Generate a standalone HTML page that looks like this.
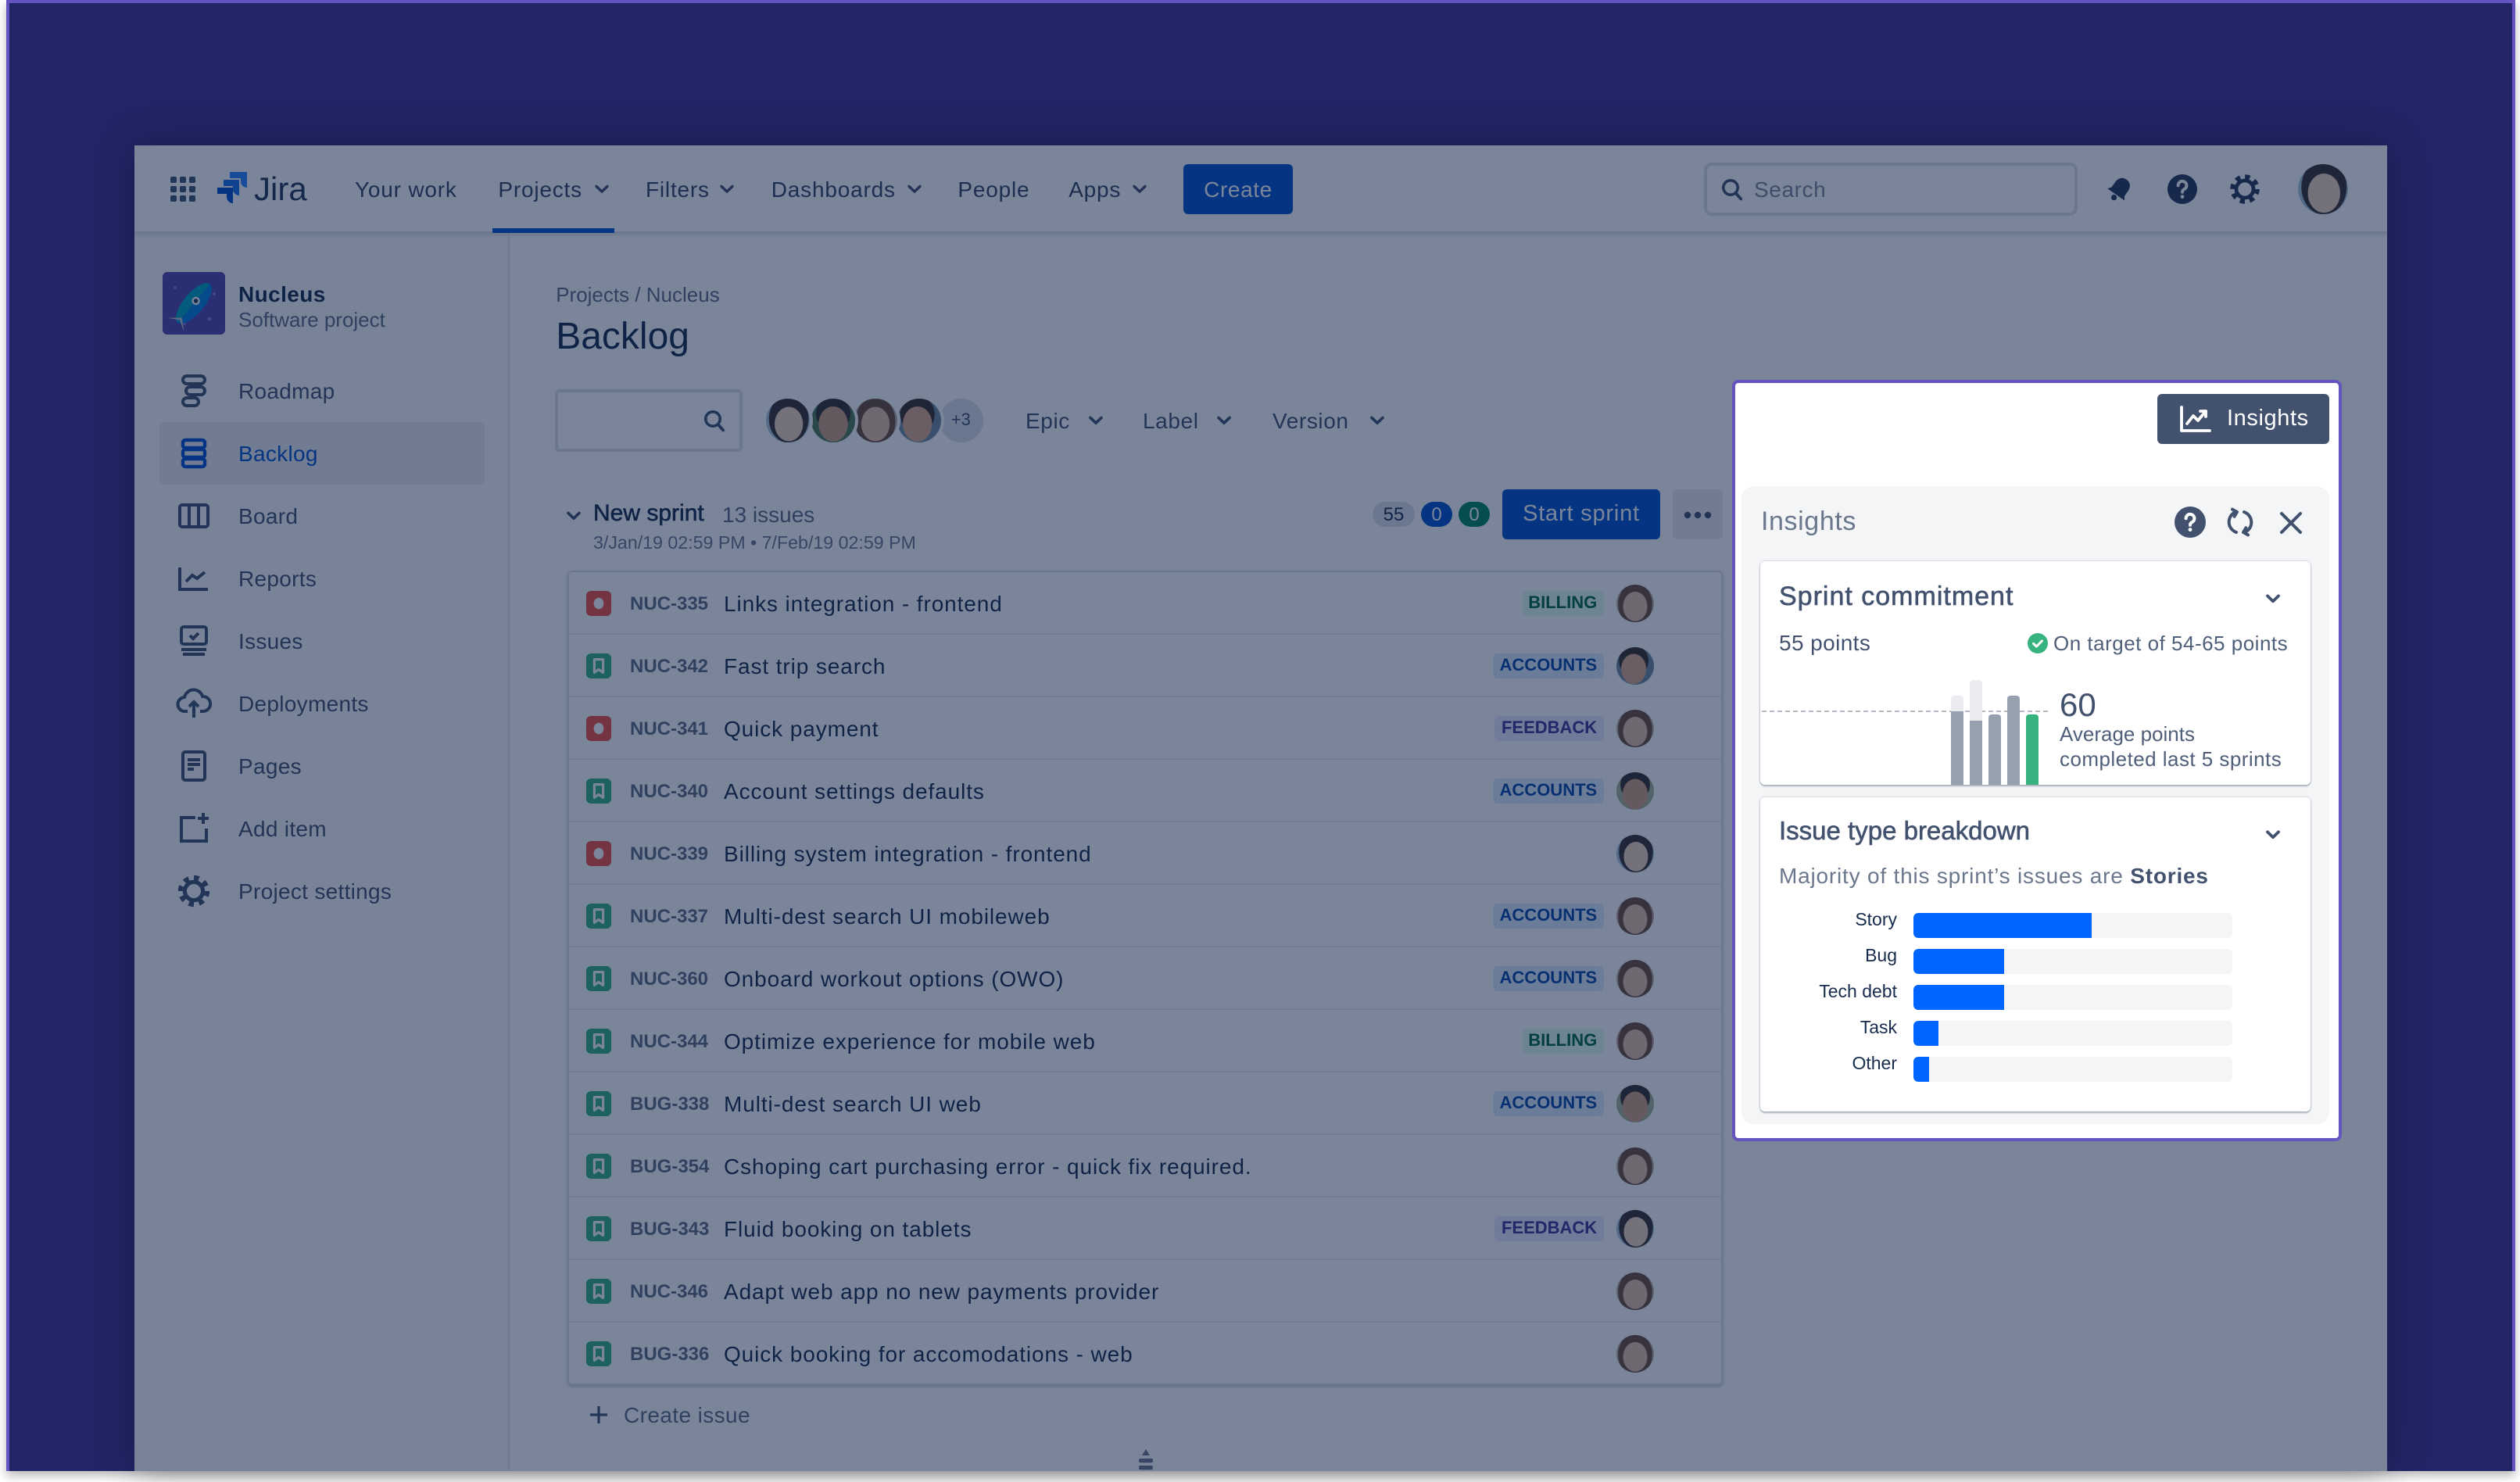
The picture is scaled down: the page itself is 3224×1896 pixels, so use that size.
<!DOCTYPE html>
<html><head><meta charset="utf-8">
<style>
*{box-sizing:border-box;margin:0;padding:0}
html,body{width:3224px;height:1896px;overflow:hidden;background:#fff}
body{font-family:"Liberation Sans",Arial,sans-serif;color:#172b4d}
#root{position:absolute;left:0;top:0;width:1612px;height:948px;transform:scale(2);transform-origin:0 0}
.a{position:absolute}
.t{position:absolute;line-height:1;white-space:nowrap}
.nav{font-size:14px;letter-spacing:.4px;color:#344563;top:21.4px}
.sb{position:absolute;left:66.5px;font-size:14px;letter-spacing:.15px;color:#42526e;line-height:1;white-space:nowrap}
.si{position:absolute;left:26px;width:24px;height:24px}
.av{position:absolute;border-radius:50%;border:2px solid #fff}
.fA{background:radial-gradient(ellipse 33% 40% at 50% 58%,#e8c0a6 0 96%,transparent 100%),radial-gradient(ellipse 46% 58% at 50% 52%,#6b4a3a 0 97%,transparent 100%),#b9ada2}
.fB{background:radial-gradient(ellipse 34% 41% at 46% 58%,#dcaa8c 0 96%,transparent 100%),radial-gradient(ellipse 40% 42% at 46% 36%,#3c2e26 0 97%,transparent 100%),#6d89a0}
.fC{background:radial-gradient(ellipse 33% 40% at 52% 58%,#f3d3bd 0 96%,transparent 100%),radial-gradient(ellipse 46% 56% at 52% 46%,#3a3030 0 97%,transparent 100%),#a9c6da}
.fD{background:radial-gradient(ellipse 34% 41% at 50% 58%,#cf9f80 0 96%,transparent 100%),radial-gradient(ellipse 40% 40% at 50% 34%,#35302c 0 97%,transparent 100%),#a7b496}
.list{position:absolute;left:277px;top:271.5px;width:739px;height:521px;border:1px solid #dfe1e6;border-radius:3px;background:#fff;box-shadow:0 1px 2px rgba(9,30,66,.25)}
.row{position:absolute;left:0;width:737px;height:40px;border-bottom:1px solid #ebecf0}
.row:last-child{border-bottom:none}
.row svg.ic{position:absolute;left:11px;top:12px}
.key{position:absolute;left:39px;top:0;line-height:40px;font-size:12px;font-weight:bold;color:#5e6c84;white-space:nowrap}
.sum{position:absolute;left:99px;top:0;line-height:40px;font-size:14px;letter-spacing:.45px;color:#172b4d;white-space:nowrap}
.lab{position:absolute;right:75.4px;top:12px;height:16px;line-height:16px;padding:0 4px;border-radius:3px;font-size:11px;font-weight:bold;white-space:nowrap}
.lB{background:#e3fcef;color:#006644}
.lA{background:#deebff;color:#0747a6}
.lF{background:#eae6ff;color:#403294}
.ra{position:absolute;left:670px;top:8px;width:24px;height:24px;border-radius:50%}
.bl{position:absolute;width:8px;border-radius:2px 2px 0 0}
.bt{position:absolute;left:1224px;width:203.5px;height:16px;background:#f4f5f7;border-radius:3px;overflow:hidden}
.bt i{position:absolute;left:0;top:0;height:16px;background:#0065ff;border-radius:3px 0 0 3px}
.bll{position:absolute;right:398.5px;font-size:11.5px;line-height:1;color:#172b4d;white-space:nowrap}
</style></head><body><div id="root">

<!-- outer frame -->
<div class="a" style="left:4px;top:0;width:1604.5px;height:940.5px;background:#222666;border:2px solid #6554c0;border-bottom:none;box-shadow:0 3px 6px rgba(0,0,0,.28)"></div>

<!-- app window -->
<div id="app" class="a" style="left:86px;top:93px;width:1440.5px;height:847.5px;background:#fff;overflow:hidden;z-index:0;box-shadow:0 0 24px rgba(0,0,20,.35)">

 <!-- sidebar -->
 <div class="a" style="left:0;top:56px;width:240px;height:791.5px;background:#fafbfc;border-right:1px solid #e4e6ea"></div>

 <!-- header -->
 <div class="a" style="left:0;top:0;width:1440.5px;height:56px;background:#fff;border-bottom:1px solid #dfe1e6;box-shadow:0 1px 3px rgba(9,30,66,.15)"></div>
 <svg class="a" style="left:22.5px;top:20px" width="16" height="16" viewBox="0 0 16 16" fill="#42526e">
  <rect x="0" y="0" width="4" height="4" rx="1"/><rect x="6" y="0" width="4" height="4" rx="1"/><rect x="12" y="0" width="4" height="4" rx="1"/>
  <rect x="0" y="6" width="4" height="4" rx="1"/><rect x="6" y="6" width="4" height="4" rx="1"/><rect x="12" y="6" width="4" height="4" rx="1"/>
  <rect x="0" y="12" width="4" height="4" rx="1"/><rect x="6" y="12" width="4" height="4" rx="1"/><rect x="12" y="12" width="4" height="4" rx="1"/>
 </svg>
 <svg class="a" style="left:51.5px;top:17px" width="21" height="21" viewBox="0 0 21 21">
  <path d="M9 0h11v10a4 4 0 0 1-4-4V4H9z" fill="#2684ff"/>
  <path d="M5 5h10v10a4 4 0 0 1-4-4V9H5z" fill="#1a6fe8"/>
  <path d="M1 10h10v10a4 4 0 0 1-4-4v-2H1z" fill="#0052cc"/>
 </svg>
 <div class="t" style="left:76.5px;top:17.7px;font-size:21px;color:#253858">Jira</div>
 <div class="t nav" style="left:141px">Your work</div>
 <div class="t nav" style="left:232.7px">Projects</div>
 <div class="t nav" style="left:327px">Filters</div>
 <div class="t nav" style="left:407.4px">Dashboards</div>
 <div class="t nav" style="left:526.7px">People</div>
 <div class="t nav" style="left:597.6px">Apps</div>
 <svg class="a" style="left:293.5px;top:25px" width="10" height="6" viewBox="0 0 10 6"><path d="M1.5 1.2L5 4.6 8.5 1.2" fill="none" stroke="#42526e" stroke-width="1.7" stroke-linecap="round" stroke-linejoin="round"/></svg>
 <svg class="a" style="left:373.7px;top:25px" width="10" height="6" viewBox="0 0 10 6"><path d="M1.5 1.2L5 4.6 8.5 1.2" fill="none" stroke="#42526e" stroke-width="1.7" stroke-linecap="round" stroke-linejoin="round"/></svg>
 <svg class="a" style="left:494px;top:25px" width="10" height="6" viewBox="0 0 10 6"><path d="M1.5 1.2L5 4.6 8.5 1.2" fill="none" stroke="#42526e" stroke-width="1.7" stroke-linecap="round" stroke-linejoin="round"/></svg>
 <svg class="a" style="left:638px;top:25px" width="10" height="6" viewBox="0 0 10 6"><path d="M1.5 1.2L5 4.6 8.5 1.2" fill="none" stroke="#42526e" stroke-width="1.7" stroke-linecap="round" stroke-linejoin="round"/></svg>
 <div class="a" style="left:229px;top:53px;width:78px;height:3px;background:#0052cc"></div>
 <div class="a" style="left:671px;top:12px;width:70px;height:32px;background:#0052cc;border-radius:3px;color:#fff;font-size:14px;letter-spacing:.3px;display:flex;align-items:center;justify-content:center">Create</div>

 <div class="a" style="left:1004px;top:11px;width:239px;height:34px;border:2px solid #dfe1e6;border-radius:5px;background:#fff"></div>
 <svg class="a" style="left:1014.5px;top:21px" width="14" height="15" viewBox="0 0 14 15"><circle cx="6" cy="6" r="4.6" fill="none" stroke="#42526e" stroke-width="1.8"/><path d="M9.4 9.6L12.6 13.2" stroke="#42526e" stroke-width="1.9" stroke-linecap="round"/></svg>
 <div class="t" style="left:1036px;top:21.4px;font-size:14px;letter-spacing:.3px;color:#7a869a">Search</div>

 <svg class="a" style="left:1260px;top:18px" width="20" height="20" viewBox="0 0 20 20"><g transform="rotate(35 10 10)" fill="#253858"><path d="M10 2.5c-3.2 0-5 2.4-5 5.5v4L3.3 14.2h13.4L15 12V8c0-3.1-1.8-5.5-5-5.5z"/><circle cx="10" cy="16.5" r="1.8"/></g></svg>
 <svg class="a" style="left:1299.6px;top:18px" width="20" height="20" viewBox="0 0 20 20"><circle cx="10" cy="10" r="9.5" fill="#253858"/><path d="M7.3 7.6a2.7 2.7 0 1 1 3.8 2.5c-.8.4-1.1.9-1.1 1.8" fill="none" stroke="#fff" stroke-width="2" stroke-linecap="round"/><circle cx="10" cy="14.8" r="1.2" fill="#fff"/></svg>
 <svg class="a" style="left:1339.7px;top:18px" width="20" height="20" viewBox="0 0 20 20"><circle cx="10" cy="10" r="7.8" fill="none" stroke="#253858" stroke-width="3.2" stroke-dasharray="3.1 3.03"/><circle cx="10" cy="10" r="5.5" fill="none" stroke="#253858" stroke-width="2.4"/></svg>
 <div class="a fC" style="left:1384px;top:12px;width:32px;height:32px;border-radius:50%"></div>

 <!-- sidebar content -->
 <div class="a" style="left:18px;top:81px;width:40px;height:40px;background:#5243aa;border-radius:3px;overflow:hidden">
  <svg width="40" height="40" viewBox="0 0 40 40"><circle cx="8" cy="10" r="1" fill="#8777d9"/><circle cx="30" cy="30" r="1.2" fill="#8777d9"/><circle cx="33" cy="14" r="1" fill="#8777d9"/><circle cx="14" cy="33" r="1" fill="#8777d9"/>
  <g transform="rotate(-50 20 20)"><ellipse cx="20" cy="20" rx="16" ry="6.5" fill="#00a3bf"/><path d="M4 20 a16 6.5 0 0 0 32 0z" fill="#0065ff" opacity=".55"/><circle cx="22" cy="20" r="2.6" fill="#fff"/><circle cx="22" cy="20" r="1.4" fill="#253858"/><path d="M8 20 L2 13 L6 20 L2 27z" fill="#c1c7d0"/></g></svg>
 </div>
 <div class="t" style="left:66.5px;top:87.6px;font-size:14px;font-weight:bold;letter-spacing:.2px;color:#172b4d">Nucleus</div>
 <div class="t" style="left:66.5px;top:105px;font-size:13px;color:#5e6c84">Software project</div>
 <div class="a" style="left:16px;top:177px;width:208px;height:40px;background:#ebecf0;border-radius:3px"></div>

 <svg class="si" style="top:145px" viewBox="0 0 24 24" fill="none" stroke="#42526e" stroke-width="2"><rect x="5" y="2.5" width="14" height="5" rx="2.5"/><rect x="7" y="9.5" width="12" height="5" rx="2.5"/><rect x="5" y="16.5" width="10" height="5" rx="2.5"/></svg>
 <div class="sb" style="top:150.1px">Roadmap</div>
 <svg class="si" style="top:185px" viewBox="0 0 24 24" fill="none" stroke="#0052cc" stroke-width="2.2"><rect x="5" y="3.5" width="14" height="5" rx="1.5"/><rect x="5" y="9.5" width="14" height="5" rx="1.5"/><rect x="5" y="15.5" width="14" height="5" rx="1.5"/></svg>
 <div class="sb" style="top:190.1px;color:#0052cc">Backlog</div>
 <svg class="si" style="top:225px" viewBox="0 0 24 24" fill="none" stroke="#42526e" stroke-width="2"><rect x="3" y="5" width="18" height="14" rx="1.5"/><path d="M9 5v14M15 5v14"/></svg>
 <div class="sb" style="top:230.1px">Board</div>
 <svg class="si" style="top:265px" viewBox="0 0 24 24" fill="none" stroke="#42526e" stroke-width="2"><path d="M3 5v14h18"/><path d="M7 14l4-4 3 2 5-4"/></svg>
 <div class="sb" style="top:270.1px">Reports</div>
 <svg class="si" style="top:305px" viewBox="0 0 24 24" fill="none" stroke="#42526e" stroke-width="2"><rect x="4" y="3" width="16" height="11" rx="1.5"/><path d="M9.5 8.5l2 2 3.5-3.5"/><path d="M4 17.5h16M5 20.5h14"/></svg>
 <div class="sb" style="top:310.1px">Issues</div>
 <svg class="si" style="top:345px" viewBox="0 0 24 24" fill="none" stroke="#42526e" stroke-width="2"><path d="M8 17H6.5a4.5 4.5 0 0 1-.5-9 6 6 0 0 1 11.6-.5A4.5 4.5 0 0 1 18 17h-2"/><path d="M12 11v10M9 14l3-3 3 3"/></svg>
 <div class="sb" style="top:350.1px">Deployments</div>
 <svg class="si" style="top:385px" viewBox="0 0 24 24" fill="none" stroke="#42526e" stroke-width="2"><rect x="5" y="3" width="14" height="18" rx="1.5"/><path d="M8 8h8M8 11h8M8 14h4"/></svg>
 <div class="sb" style="top:390.1px">Pages</div>
 <svg class="si" style="top:425px" viewBox="0 0 24 24" fill="none" stroke="#42526e" stroke-width="2"><path d="M13 5H4v15h16v-8"/><path d="M18 2v7M14.5 5.5h7"/></svg>
 <div class="sb" style="top:430.1px">Add item</div>
 <svg class="si" style="top:465px" viewBox="0 0 24 24" fill="none" stroke="#42526e"><circle cx="12" cy="12" r="8.5" stroke-width="3.2" stroke-dasharray="3.3 3.37"/><circle cx="12" cy="12" r="5.8" stroke-width="2.6"/></svg>
 <div class="sb" style="top:470.1px">Project settings</div>

 <!-- main content -->
 <div class="t" style="left:269.6px;top:89px;font-size:13px;color:#5e6c84">Projects / Nucleus</div>
 <div class="t" style="left:269.6px;top:110.5px;font-size:24px;color:#172b4d">Backlog</div>

 <div class="a" style="left:268.7px;top:156px;width:120px;height:40px;border:2px solid #dfe1e6;border-radius:3px;background:#fff"></div>
 <svg class="a" style="left:363.8px;top:168.8px" width="14" height="15" viewBox="0 0 14 15"><circle cx="6" cy="6" r="4.6" fill="none" stroke="#42526e" stroke-width="1.8"/><path d="M9.4 9.6L12.6 13.2" stroke="#42526e" stroke-width="1.9" stroke-linecap="round"/></svg>

 <div class="av" style="left:512.7px;top:159.5px;width:32px;height:32px;background:#dfe1e6;display:flex;align-items:center;justify-content:center;font-size:11px;color:#42526e;z-index:1">+3</div>
 <div class="av fB" style="left:486px;top:159.5px;width:32px;height:32px;z-index:2"></div>
 <div class="av fA" style="left:458.3px;top:159.5px;width:32px;height:32px;z-index:3"></div>
 <div class="av fD" style="left:430.5px;top:159.5px;width:32px;height:32px;z-index:4;background-color:#4f7a58"></div>
 <div class="av fC" style="left:401.7px;top:159.5px;width:32px;height:32px;z-index:5"></div>

 <div class="t" style="left:570px;top:168.6px;font-size:14px;letter-spacing:.3px;color:#42526e">Epic</div>
 <div class="t" style="left:645px;top:168.6px;font-size:14px;letter-spacing:.3px;color:#42526e">Label</div>
 <div class="t" style="left:728px;top:168.6px;font-size:14px;letter-spacing:.3px;color:#42526e">Version</div>
 <svg class="a" style="left:610px;top:172.5px" width="10" height="6" viewBox="0 0 10 6"><path d="M1.5 1.2L5 4.6 8.5 1.2" fill="none" stroke="#42526e" stroke-width="1.8" stroke-linecap="round" stroke-linejoin="round"/></svg>
 <svg class="a" style="left:692.4px;top:172.5px" width="10" height="6" viewBox="0 0 10 6"><path d="M1.5 1.2L5 4.6 8.5 1.2" fill="none" stroke="#42526e" stroke-width="1.8" stroke-linecap="round" stroke-linejoin="round"/></svg>
 <svg class="a" style="left:790px;top:172.5px" width="10" height="6" viewBox="0 0 10 6"><path d="M1.5 1.2L5 4.6 8.5 1.2" fill="none" stroke="#42526e" stroke-width="1.8" stroke-linecap="round" stroke-linejoin="round"/></svg>

 <svg class="a" style="left:275.8px;top:233.7px" width="10" height="6" viewBox="0 0 10 6"><path d="M1.5 1.2L5 4.6 8.5 1.2" fill="none" stroke="#42526e" stroke-width="1.8" stroke-linecap="round" stroke-linejoin="round"/></svg>
 <div class="t" style="left:293.5px;top:228.3px;font-size:15px;color:#172b4d;-webkit-text-stroke:.3px #172b4d">New sprint</div>
 <div class="t" style="left:376px;top:229.1px;font-size:14px;color:#5e6c84">13 issues</div>
 <div class="t" style="left:293.5px;top:249.1px;font-size:11.6px;color:#6b778c">3/Jan/19 02:59 PM • 7/Feb/19 02:59 PM</div>

 <div class="a" style="left:792px;top:228px;width:27px;height:16px;border-radius:8px;background:#dfe1e6;color:#172b4d;font-size:12px;line-height:16px;text-align:center">55</div>
 <div class="a" style="left:823px;top:228px;width:20px;height:16px;border-radius:8px;background:#0052cc;color:#fff;font-size:12px;line-height:16px;text-align:center">0</div>
 <div class="a" style="left:847px;top:228px;width:20px;height:16px;border-radius:8px;background:#00875a;color:#fff;font-size:12px;line-height:16px;text-align:center">0</div>
 <div class="a" style="left:875px;top:220px;width:101px;height:32px;background:#0052cc;border-radius:3px;color:#fff;font-size:14.5px;letter-spacing:.4px;display:flex;align-items:center;justify-content:center">Start sprint</div>
 <div class="a" style="left:984px;top:220px;width:32px;height:32px;background:#ebecf0;border-radius:3px"></div>
 <svg class="a" style="left:990px;top:233.5px" width="20" height="5" viewBox="0 0 20 5" fill="#42526e"><circle cx="3.5" cy="2.5" r="2.1"/><circle cx="10" cy="2.5" r="2.1"/><circle cx="16.5" cy="2.5" r="2.1"/></svg>

 <div class="list">
  <div class="row" style="top:0"><svg class="ic" width="16" height="16"><rect width="16" height="16" rx="3" fill="#f04e3e"/><ellipse cx="8" cy="8" rx="3.2" ry="3.6" fill="#fff"/></svg><div class="key">NUC-335</div><div class="sum">Links integration - frontend</div><div class="lab lB">BILLING</div><div class="ra fA"></div></div>
  <div class="row" style="top:40px"><svg class="ic" width="16" height="16"><rect width="16" height="16" rx="3" fill="#36b37e"/><path d="M5.2 3.8h5.6v8.4L8 10.2 5.2 12.2z" fill="none" stroke="#fff" stroke-width="1.6" stroke-linejoin="round"/></svg><div class="key">NUC-342</div><div class="sum">Fast trip search</div><div class="lab lA">ACCOUNTS</div><div class="ra fB"></div></div>
  <div class="row" style="top:80px"><svg class="ic" width="16" height="16"><rect width="16" height="16" rx="3" fill="#f04e3e"/><ellipse cx="8" cy="8" rx="3.2" ry="3.6" fill="#fff"/></svg><div class="key">NUC-341</div><div class="sum">Quick payment</div><div class="lab lF">FEEDBACK</div><div class="ra fA"></div></div>
  <div class="row" style="top:120px"><svg class="ic" width="16" height="16"><rect width="16" height="16" rx="3" fill="#36b37e"/><path d="M5.2 3.8h5.6v8.4L8 10.2 5.2 12.2z" fill="none" stroke="#fff" stroke-width="1.6" stroke-linejoin="round"/></svg><div class="key">NUC-340</div><div class="sum">Account settings defaults</div><div class="lab lA">ACCOUNTS</div><div class="ra fD"></div></div>
  <div class="row" style="top:160px"><svg class="ic" width="16" height="16"><rect width="16" height="16" rx="3" fill="#f04e3e"/><ellipse cx="8" cy="8" rx="3.2" ry="3.6" fill="#fff"/></svg><div class="key">NUC-339</div><div class="sum">Billing system integration - frontend</div><div class="ra fC"></div></div>
  <div class="row" style="top:200px"><svg class="ic" width="16" height="16"><rect width="16" height="16" rx="3" fill="#36b37e"/><path d="M5.2 3.8h5.6v8.4L8 10.2 5.2 12.2z" fill="none" stroke="#fff" stroke-width="1.6" stroke-linejoin="round"/></svg><div class="key">NUC-337</div><div class="sum">Multi-dest search UI mobileweb</div><div class="lab lA">ACCOUNTS</div><div class="ra fA" style="background-color:#c9a0a0"></div></div>
  <div class="row" style="top:240px"><svg class="ic" width="16" height="16"><rect width="16" height="16" rx="3" fill="#36b37e"/><path d="M5.2 3.8h5.6v8.4L8 10.2 5.2 12.2z" fill="none" stroke="#fff" stroke-width="1.6" stroke-linejoin="round"/></svg><div class="key">NUC-360</div><div class="sum">Onboard workout options (OWO)</div><div class="lab lA">ACCOUNTS</div><div class="ra fA"></div></div>
  <div class="row" style="top:280px"><svg class="ic" width="16" height="16"><rect width="16" height="16" rx="3" fill="#36b37e"/><path d="M5.2 3.8h5.6v8.4L8 10.2 5.2 12.2z" fill="none" stroke="#fff" stroke-width="1.6" stroke-linejoin="round"/></svg><div class="key">NUC-344</div><div class="sum">Optimize experience for mobile web</div><div class="lab lB">BILLING</div><div class="ra fA" style="background-color:#c9a0a0"></div></div>
  <div class="row" style="top:320px"><svg class="ic" width="16" height="16"><rect width="16" height="16" rx="3" fill="#36b37e"/><path d="M5.2 3.8h5.6v8.4L8 10.2 5.2 12.2z" fill="none" stroke="#fff" stroke-width="1.6" stroke-linejoin="round"/></svg><div class="key">BUG-338</div><div class="sum">Multi-dest search UI web</div><div class="lab lA">ACCOUNTS</div><div class="ra fD"></div></div>
  <div class="row" style="top:360px"><svg class="ic" width="16" height="16"><rect width="16" height="16" rx="3" fill="#36b37e"/><path d="M5.2 3.8h5.6v8.4L8 10.2 5.2 12.2z" fill="none" stroke="#fff" stroke-width="1.6" stroke-linejoin="round"/></svg><div class="key">BUG-354</div><div class="sum">Cshoping cart purchasing error - quick fix required.</div><div class="ra fA"></div></div>
  <div class="row" style="top:400px"><svg class="ic" width="16" height="16"><rect width="16" height="16" rx="3" fill="#36b37e"/><path d="M5.2 3.8h5.6v8.4L8 10.2 5.2 12.2z" fill="none" stroke="#fff" stroke-width="1.6" stroke-linejoin="round"/></svg><div class="key">BUG-343</div><div class="sum">Fluid booking on tablets</div><div class="lab lF">FEEDBACK</div><div class="ra fC"></div></div>
  <div class="row" style="top:440px"><svg class="ic" width="16" height="16"><rect width="16" height="16" rx="3" fill="#36b37e"/><path d="M5.2 3.8h5.6v8.4L8 10.2 5.2 12.2z" fill="none" stroke="#fff" stroke-width="1.6" stroke-linejoin="round"/></svg><div class="key">NUC-346</div><div class="sum">Adapt web app no new payments provider</div><div class="ra fA"></div></div>
  <div class="row" style="top:480px"><svg class="ic" width="16" height="16"><rect width="16" height="16" rx="3" fill="#36b37e"/><path d="M5.2 3.8h5.6v8.4L8 10.2 5.2 12.2z" fill="none" stroke="#fff" stroke-width="1.6" stroke-linejoin="round"/></svg><div class="key">BUG-336</div><div class="sum">Quick booking for accomodations - web</div><div class="ra fA"></div></div>
 </div>

 <svg class="a" style="left:290.7px;top:806px" width="12" height="12" viewBox="0 0 12 12"><path d="M6 0.5v11M0.5 6h11" stroke="#42526e" stroke-width="1.6"/></svg>
 <div class="t" style="left:313px;top:805.1px;font-size:14px;letter-spacing:.2px;color:#5e6c84">Create issue</div>
 <svg class="a" style="left:641px;top:834px" width="12" height="14" viewBox="0 0 12 14" fill="#6b778c"><path d="M6 0L8.5 4H3.5z"/><rect x="1.5" y="6" width="9" height="2.6" rx="1"/><rect x="1.5" y="10.5" width="9" height="2.6" rx="1"/></svg>

 <!-- dim overlay -->
 <div class="a" style="left:0;top:0;width:100%;height:100%;background:rgba(9,30,66,.54);z-index:10"></div>
</div>

<!-- Insights panel (highlighted) -->
<div class="a" style="left:1107.5px;top:242.5px;width:390.5px;height:487px;background:#fff;border:2.5px solid #6554c0;border-radius:4px"></div>
<div class="a" style="left:1380px;top:252px;width:110px;height:32px;background:#42526e;border-radius:3px"></div>
<svg class="a" style="left:1394px;top:259px" width="21" height="18" viewBox="0 0 21 18" fill="none" stroke="#fff" stroke-width="1.9" stroke-linecap="round" stroke-linejoin="round"><path d="M1.5 1.5v15h18"/><path d="M5 12l4-5 3 3 5-6"/><path d="M13.5 4h3.5v3.5"/></svg>
<div class="t" style="left:1424.5px;top:261.3px;font-size:14.5px;letter-spacing:.3px;color:#fff">Insights</div>

<div class="a" style="left:1114px;top:311px;width:375.5px;height:407.5px;background:#f4f5f7;border-radius:8px"></div>
<div class="t" style="left:1126.5px;top:324.6px;font-size:17px;letter-spacing:.3px;color:#6b778c">Insights</div>
<svg class="a" style="left:1390.5px;top:324px" width="20" height="20" viewBox="0 0 20 20"><circle cx="10" cy="10" r="10" fill="#42526e"/><path d="M7.3 7.6a2.7 2.7 0 1 1 3.8 2.5c-.8.4-1.1.9-1.1 1.8" fill="none" stroke="#fff" stroke-width="2" stroke-linecap="round"/><circle cx="10" cy="14.8" r="1.2" fill="#fff"/></svg>
<svg class="a" style="left:1423.5px;top:324px" width="18" height="20" viewBox="0 0 18 20" fill="none" stroke="#42526e" stroke-width="2" stroke-linecap="round" stroke-linejoin="round"><path d="M6 3.5A7 7 0 0 0 6.5 16.5"/><path d="M12 16.5A7 7 0 0 0 11.5 3.5"/><path d="M4 1.8L7 3.5 5.3 6.4"/><path d="M14 18.2L11 16.5 12.7 13.6"/></svg>
<svg class="a" style="left:1458px;top:326.5px" width="15" height="15" viewBox="0 0 15 15" stroke="#42526e" stroke-width="2" stroke-linecap="round"><path d="M1.5 1.5l12 12M13.5 1.5l-12 12"/></svg>

<!-- card 1 -->
<div class="a" style="left:1126px;top:359px;width:352px;height:143px;background:#fff;border-radius:3px;box-shadow:0 1px 1px rgba(9,30,66,.28),0 0 1px rgba(9,30,66,.3)"></div>
<div class="t" style="left:1138px;top:372.6px;font-size:17px;letter-spacing:.5px;color:#42526e;-webkit-text-stroke:.3px #42526e">Sprint commitment</div>
<svg class="a" style="left:1448.5px;top:380px" width="10" height="6" viewBox="0 0 10 6"><path d="M1.5 1.2L5 4.6 8.5 1.2" fill="none" stroke="#42526e" stroke-width="1.9" stroke-linecap="round" stroke-linejoin="round"/></svg>
<div class="t" style="left:1138px;top:403.7px;font-size:14px;letter-spacing:.2px;color:#42526e">55 points</div>
<svg class="a" style="left:1296.5px;top:404.5px" width="13" height="13" viewBox="0 0 13 13"><circle cx="6.5" cy="6.5" r="6.5" fill="#36b37e"/><path d="M3.8 6.7l1.9 1.9 3.5-3.6" fill="none" stroke="#fff" stroke-width="1.5" stroke-linecap="round" stroke-linejoin="round"/></svg>
<div class="t" style="left:1313.5px;top:404.5px;font-size:13px;letter-spacing:.25px;color:#505f79">On target of 54-65 points</div>
<svg class="a" style="left:1127px;top:454px" width="183" height="2" viewBox="0 0 183 2"><path d="M0 1H183" stroke="#b3bac5" stroke-width="1" stroke-dasharray="3 2"/></svg>
<div class="bl" style="left:1247.5px;top:445px;height:56.5px;background:#ebecf0"></div>
<div class="bl" style="left:1247.5px;top:455px;height:46.5px;background:#97a0af;border-radius:0"></div>
<div class="bl" style="left:1259.5px;top:435px;height:66.5px;background:#ebecf0"></div>
<div class="bl" style="left:1259.5px;top:461px;height:40.5px;background:#97a0af;border-radius:0"></div>
<div class="bl" style="left:1271.5px;top:457px;height:44.5px;background:#97a0af"></div>
<div class="bl" style="left:1283.5px;top:445px;height:56.5px;background:#97a0af"></div>
<div class="bl" style="left:1295.5px;top:457px;height:44.5px;background:#36b37e"></div>
<div class="t" style="left:1317.5px;top:440.7px;font-size:21px;color:#42526e">60</div>
<div class="t" style="left:1317.5px;top:463px;font-size:13px;color:#505f79">Average points</div>
<div class="t" style="left:1317.5px;top:478.5px;font-size:13px;letter-spacing:.23px;color:#505f79">completed last 5 sprints</div>

<!-- card 2 -->
<div class="a" style="left:1126px;top:510px;width:352px;height:201px;background:#fff;border-radius:3px;box-shadow:0 1px 1px rgba(9,30,66,.28),0 0 1px rgba(9,30,66,.3)"></div>
<div class="t" style="left:1138px;top:524px;font-size:16.5px;color:#42526e;-webkit-text-stroke:.3px #42526e">Issue type breakdown</div>
<svg class="a" style="left:1448.5px;top:531px" width="10" height="6" viewBox="0 0 10 6"><path d="M1.5 1.2L5 4.6 8.5 1.2" fill="none" stroke="#42526e" stroke-width="1.9" stroke-linecap="round" stroke-linejoin="round"/></svg>
<div class="t" style="left:1138px;top:552.8px;font-size:14px;letter-spacing:.4px;color:#6b778c">Majority of this sprint’s issues are <b style="color:#42526e">Stories</b></div>

<div class="bll" style="top:583.5px">Story</div>
<div class="bt" style="top:584px"><i style="width:114px"></i></div>
<div class="bll" style="top:606.5px">Bug</div>
<div class="bt" style="top:607px"><i style="width:58px"></i></div>
<div class="bll" style="top:629.5px">Tech debt</div>
<div class="bt" style="top:630px"><i style="width:58px"></i></div>
<div class="bll" style="top:652.5px">Task</div>
<div class="bt" style="top:653px"><i style="width:16px"></i></div>
<div class="bll" style="top:675.5px">Other</div>
<div class="bt" style="top:676px"><i style="width:10px"></i></div>

</div></body></html>
